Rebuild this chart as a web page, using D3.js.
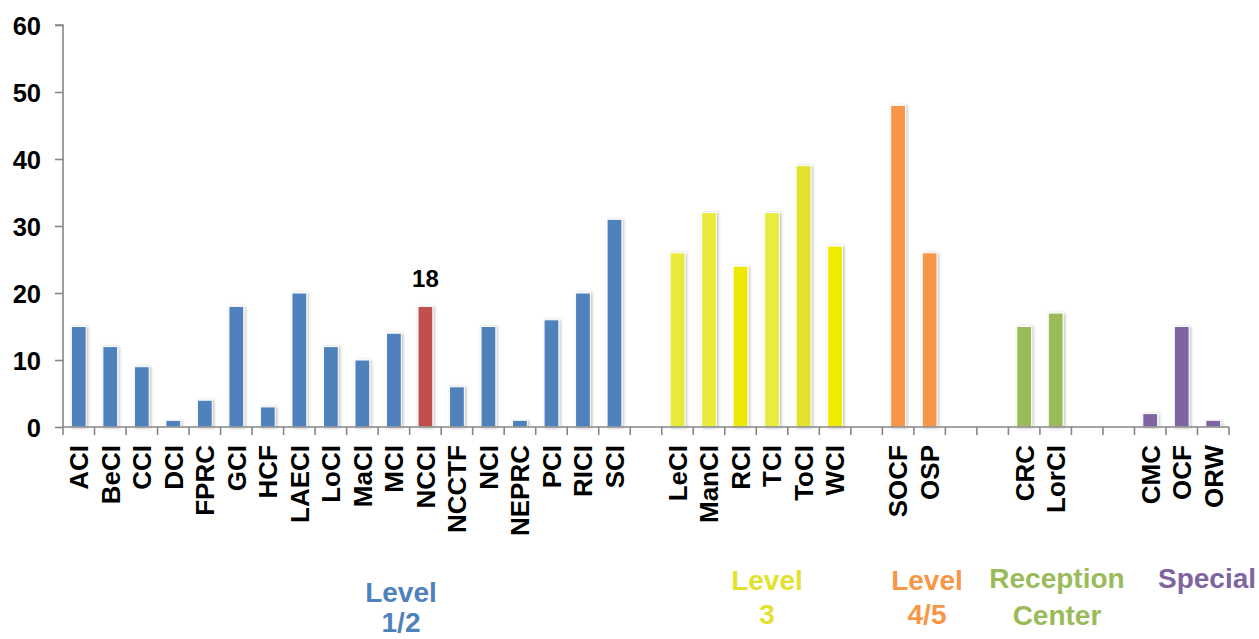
<!DOCTYPE html>
<html>
<head>
<meta charset="utf-8">
<script src="https://cdn.jsdelivr.net/npm/d3@7"></script>
<style>
  html, body { margin: 0; padding: 0; background: #fff; }
  svg { display: block; font-family: "Liberation Sans", Arial, sans-serif; }
</style>
</head>
<body>
<svg id="chart" width="1259" height="639"></svg>
<script>
// ---- data ----
const level12Cats = ["ACI","BeCI","CCI","DCI","FPRC","GCI","HCF","LAECI","LoCI","MaCI","MCI","NCCI","NCCTF","NCI","NEPRC","PCI","RICI","SCI"];
const level12Vals = [15,12,9,1,4,18,3,20,12,10,14,18,6,15,1,16,20,31];
const level3Cats = ["LeCI","ManCI","RCI","TCI","ToCI","WCI"];
const level3Vals = [26,32,24,32,39,27];
const level45Cats = ["SOCF","OSP"];
const level45Vals = [48,26];
const receptionCats = ["CRC","LorCI"];
const receptionVals = [15,17];
const specialCats = ["CMC","OCF","ORW"];
const specialVals = [2,15,1];
const groupNames = [["Level","1/2"],["Level","3"],["Level","4/5"],["Reception","Center"],["Special"]];
const gapsAfter = [1,1,2,2,0];
const yTicks = [0,10,20,30,40,50,60];
const highlightCat = "NCCI";

(function () {
// ---- styles ----
const blue = "#4F81BD", red = "#C0504D", orange = "#F79646", green = "#9BBB59", purple = "#8064A2";
const yellowBars = ["#E7EA38","#E8EB3B","#EFE800","#E8EC3C","#E2E22E","#F0E900"];
const groupColors = [blue, "#E2E22E", orange, green, purple];

const groups = [
  {cats: level12Cats, vals: level12Vals},
  {cats: level3Cats, vals: level3Vals},
  {cats: level45Cats, vals: level45Vals},
  {cats: receptionCats, vals: receptionVals},
  {cats: specialCats, vals: specialVals}
];

// build slot domain (categories + empty gap slots)
const slots = [];
const bars = [];
groups.forEach((g, gi) => {
  g.cats.forEach((c, i) => {
    slots.push(c);
    let color = groupColors[gi];
    if (gi === 1) color = yellowBars[i];
    if (c === highlightCat) color = red;
    bars.push({cat: c, val: g.vals[i], color, group: gi});
  });
  for (let k = 0; k < gapsAfter[gi]; k++) slots.push("__gap" + gi + "_" + k);
});

const svg = d3.select("#chart");
const mLeft = 63, mRight = 1229, mTop = 25, mBottom = 427;

const x = d3.scaleBand().domain(slots).range([mLeft, mRight]).padding(0);
const y = d3.scaleLinear().domain([0, 60]).range([mBottom, mTop]);

const defs = svg.append("defs");
const f = defs.append("filter").attr("id", "shadow")
  .attr("x", "-50%").attr("y", "-10%").attr("width", "200%").attr("height", "120%");
f.append("feDropShadow").attr("dx", 1.2).attr("dy", 0.5)
  .attr("stdDeviation", 1.4).attr("flood-color", "#000").attr("flood-opacity", 0.28);

const barW = x.bandwidth() * 0.47;

// bars
svg.append("g").selectAll("rect").data(bars).join("rect")
  .attr("x", d => x(d.cat) + (x.bandwidth() - barW) / 2)
  .attr("y", d => y(d.val))
  .attr("width", barW)
  .attr("height", d => y(0) - y(d.val))
  .attr("fill", d => d.color)
  .attr("stroke", "#fff")
  .attr("stroke-width", 1)
  .attr("filter", "url(#shadow)");

// y axis
const yAxis = d3.axisLeft(y).tickValues(yTicks).tickSize(8).tickPadding(14).tickFormat(d3.format("d"));
const yg = svg.append("g").attr("transform", `translate(${mLeft},0)`).call(yAxis);
yg.select(".domain").attr("stroke", "#868686").attr("stroke-width", 1.6).attr("d", `M-8,${mTop}H0V${mBottom}`);
yg.selectAll(".tick line").attr("stroke", "#868686").attr("stroke-width", 1.6);
yg.selectAll(".tick text").attr("fill", "#000").attr("font-size", 25.5).attr("font-weight", "bold")
  .attr("dy", "0.36em");

// x axis: ticks at every slot boundary
const xg = svg.append("g");
xg.append("line").attr("x1", mLeft).attr("x2", mRight).attr("y1", mBottom).attr("y2", mBottom)
  .attr("stroke", "#868686").attr("stroke-width", 1.6);
const boundaries = slots.map(s => x(s)).concat([x(slots[slots.length - 1]) + x.bandwidth()]);
xg.selectAll("line.tk").data(boundaries).join("line").attr("class", "tk")
  .attr("x1", d => d).attr("x2", d => d).attr("y1", mBottom).attr("y2", mBottom + 8)
  .attr("stroke", "#868686").attr("stroke-width", 1.6);

// category labels (rotated)
xg.selectAll("text.cat").data(bars).join("text").attr("class", "cat")
  .attr("transform", d => `translate(${x(d.cat) + x.bandwidth() / 2},${mBottom + 18}) rotate(-90)`)
  .attr("text-anchor", "end")
  .attr("dy", "0.36em")
  .attr("font-size", 26).attr("font-weight", "bold").attr("fill", "#000")
  .text(d => d.cat);

// data label for highlighted bar
const hb = bars.find(b => b.cat === highlightCat);
svg.append("text")
  .attr("x", x(hb.cat) + x.bandwidth() / 2)
  .attr("y", y(hb.val) - 19)
  .attr("text-anchor", "middle")
  .attr("font-size", 24).attr("font-weight", "bold").attr("fill", "#000")
  .text(hb.val);

// group labels
const labelPos = [
  {x: 401, y: 602, lh: 30},
  {x: 767, y: 590, lh: 34},
  {x: 927, y: 590, lh: 34},
  {x: 1057, y: 588, lh: 37},
  {x: 1207, y: 588, lh: 34}
];
groupNames.forEach((lines, gi) => {
  const t = svg.append("text")
    .attr("text-anchor", "middle")
    .attr("font-size", 28).attr("font-weight", "bold")
    .attr("fill", groupColors[gi]);
  lines.forEach((ln, li) => {
    t.append("tspan").attr("x", labelPos[gi].x).attr("y", labelPos[gi].y + li * labelPos[gi].lh).text(ln);
  });
});
})();
</script>
</body>
</html>
